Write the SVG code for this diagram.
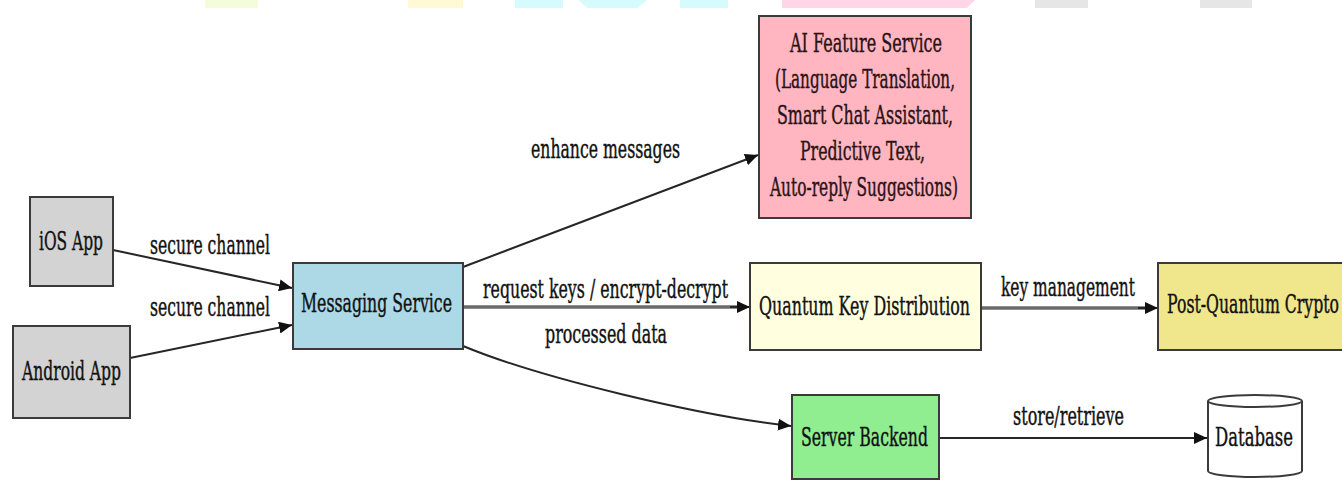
<svg xmlns="http://www.w3.org/2000/svg" width="1342" height="482" viewBox="0 0 1342 482">
  <defs>
    <marker id="arrow" markerUnits="userSpaceOnUse" markerWidth="14" markerHeight="12" refX="13" refY="6" orient="auto">
      <path d="M0,0 L13,6 L0,12 Z" fill="#111"/>
    </marker>
    <style>
      .box { stroke: #3a3a3a; stroke-width: 2; }
      /* labels are set in a narrow serif: DejaVu Serif squeezed horizontally, slightly heavier */
      .lbl { font-family: "DejaVu Serif", "Liberation Serif", serif; font-size: 26px; fill: #111; stroke: #111; stroke-width: 0.45; }
      .ai { fill: #2a1216; stroke: #2a1216; }
      .edge { fill: none; stroke: #262626; stroke-width: 2; }
      .edge2 { fill: none; stroke: #6a6a6a; stroke-width: 3.5; }
      .band { stroke: none; }
    </style>
  </defs>

  <rect width="1342" height="482" fill="#ffffff"/>

  <!-- colour bands along the top edge -->
  <g id="top-bands">
    <rect class="band" x="205" y="0" width="53" height="8" fill="#f5fcdc"/>
    <rect class="band" x="408" y="0" width="55" height="8" fill="#fff9d6"/>
    <rect class="band" x="515" y="0" width="48" height="8" fill="#d5fbfd"/>
    <polygon class="band" points="578,0 647,0 637,8 588,8" fill="#d5fbfd"/>
    <rect class="band" x="680" y="0" width="48" height="8" fill="#d5fbfd"/>
    <polygon class="band" points="782,0 975,0 967,8 782,8" fill="#ffd6e8"/>
    <rect class="band" x="1035" y="0" width="53" height="8" fill="#e6e6e6"/>
    <rect class="band" x="1200" y="0" width="52" height="8" fill="#e6e6e6"/>
  </g>

  <!-- connectors -->
  <g id="connectors">
    <path class="edge" d="M113,250 L292,288" marker-end="url(#arrow)"/>
    <text class="lbl" transform="translate(150,254) scale(0.62,1)" textLength="193.5" lengthAdjust="spacingAndGlyphs">secure channel</text>

    <path class="edge" d="M130,358 L292,325" marker-end="url(#arrow)"/>
    <text class="lbl" transform="translate(150,316) scale(0.62,1)" textLength="193.5" lengthAdjust="spacingAndGlyphs">secure channel</text>

    <path class="edge" d="M463,267 L758,155" marker-end="url(#arrow)"/>
    <text class="lbl" transform="translate(531,158) scale(0.62,1)" textLength="240.3" lengthAdjust="spacingAndGlyphs">enhance messages</text>

    <path class="edge2" d="M463,307 L738,307"/>
    <path class="edge" d="M730,307 L750,307" marker-end="url(#arrow)"/>
    <text class="lbl" transform="translate(483,298) scale(0.62,1)" textLength="395.2" lengthAdjust="spacingAndGlyphs">request keys / encrypt-decrypt</text>
    <text class="lbl" transform="translate(545,343) scale(0.62,1)" textLength="196.8" lengthAdjust="spacingAndGlyphs">processed data</text>

    <path class="edge" d="M463,346 C540,378 700,416 791,426" marker-end="url(#arrow)"/>

    <path class="edge2" d="M981,308 L1146,308"/>
    <path class="edge" d="M1138,308 L1158,308" marker-end="url(#arrow)"/>
    <text class="lbl" transform="translate(1001,296) scale(0.62,1)" textLength="216.1" lengthAdjust="spacingAndGlyphs">key management</text>

    <path class="edge" d="M939,438 L1207,438" marker-end="url(#arrow)"/>
    <text class="lbl" transform="translate(1013,425) scale(0.62,1)" textLength="179" lengthAdjust="spacingAndGlyphs">store/retrieve</text>
  </g>

  <g id="ios-app">
    <rect class="box" x="30" y="197" width="83" height="89" fill="#d3d3d3"/>
    <text class="lbl" transform="translate(39,250) scale(0.62,1)" textLength="103.2" lengthAdjust="spacingAndGlyphs">iOS App</text>
  </g>

  <g id="android-app">
    <rect class="box" x="13" y="326" width="117" height="92" fill="#d3d3d3"/>
    <text class="lbl" transform="translate(22,380) scale(0.62,1)" textLength="159.7" lengthAdjust="spacingAndGlyphs">Android App</text>
  </g>

  <g id="messaging-service">
    <rect class="box" x="293" y="263" width="170" height="86" fill="#add8e6"/>
    <text class="lbl" transform="translate(301,312) scale(0.62,1)" textLength="243.5" lengthAdjust="spacingAndGlyphs">Messaging Service</text>
  </g>

  <g id="ai-feature-service">
    <rect class="box" x="759" y="16" width="212" height="202" fill="#ffb6c1"/>
    <text class="lbl ai" transform="translate(790,52) scale(0.62,1)" textLength="245.2" lengthAdjust="spacingAndGlyphs">AI Feature Service</text>
    <text class="lbl ai" transform="translate(775,88) scale(0.62,1)" textLength="290.3" lengthAdjust="spacingAndGlyphs">(Language Translation,</text>
    <text class="lbl ai" transform="translate(777,124) scale(0.62,1)" textLength="283.9" lengthAdjust="spacingAndGlyphs">Smart Chat Assistant,</text>
    <text class="lbl ai" transform="translate(800,160) scale(0.62,1)" textLength="201.6" lengthAdjust="spacingAndGlyphs">Predictive Text,</text>
    <text class="lbl ai" transform="translate(770,196) scale(0.62,1)" textLength="303.2" lengthAdjust="spacingAndGlyphs">Auto-reply Suggestions)</text>
  </g>

  <g id="quantum-key-distribution">
    <rect class="box" x="750" y="263" width="231" height="87" fill="#ffffe0"/>
    <text class="lbl" transform="translate(759,315) scale(0.62,1)" textLength="340.3" lengthAdjust="spacingAndGlyphs">Quantum Key Distribution</text>
  </g>

  <g id="post-quantum-crypto">
    <rect class="box" x="1158" y="263" width="200" height="87" fill="#f0e68c"/>
    <text class="lbl" transform="translate(1167,313) scale(0.62,1)" textLength="277.4" lengthAdjust="spacingAndGlyphs">Post-Quantum Crypto</text>
  </g>

  <g id="server-backend">
    <rect class="box" x="792" y="395" width="147" height="84" fill="#90ee90"/>
    <text class="lbl" transform="translate(801,446) scale(0.62,1)" textLength="204.8" lengthAdjust="spacingAndGlyphs">Server Backend</text>
  </g>

  <g id="database">
    <path class="box" d="M1208,401 A47,6 0 0 1 1302,401 L1302,471 A47,6 0 0 1 1208,471 Z" fill="#ffffff"/>
    <path class="box" d="M1208,401 A47,6 0 0 0 1302,401" fill="none"/>
    <text class="lbl" transform="translate(1215,446) scale(0.62,1)" textLength="125.8" lengthAdjust="spacingAndGlyphs">Database</text>
  </g>
</svg>
